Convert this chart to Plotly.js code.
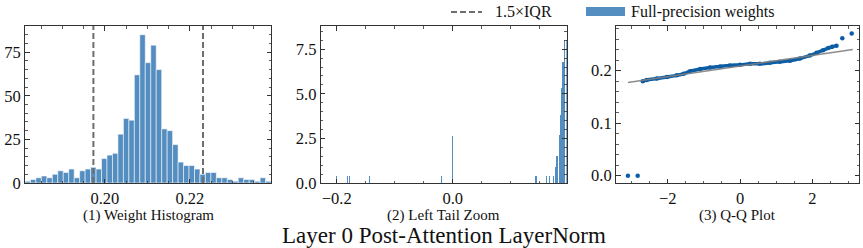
<!DOCTYPE html>
<html>
<head>
<meta charset="utf-8">
<script src="https://cdn.plot.ly/plotly-3.0.1.min.js"></script>
<style>html,body{margin:0;padding:0;background:#fff;}#chart{width:863px;height:248px;}</style>
</head>
<body>
<div id="chart"></div>
<script>
// ---- Panel 1: weight histogram (45 equal bins) ----
const histStart = 0.18184;      // centre of first bin
const histBinWidth = 0.001287;
const histCounts = [1, 2, 3, 4, 3, 5, 7, 6, 8, 3, 7, 8, 9, 8, 14, 16, 17, 28, 37, 36,
                    62, 85, 69, 79, 65, 31, 30, 22, 12, 10, 10, 8, 5, 6, 6, 3, 3, 2, 1, 3,
                    2, 2, 1, 3, 1];
const iqrFences = [0.1973, 0.2231];

// ---- Panel 2: left tail zoom (density) ----
const tailX = [-0.2, -0.181, -0.178, -0.144, -0.020, 0.0, 0.1436, 0.162, 0.167, 0.174,
               0.1775, 0.1795, 0.1815, 0.1835, 0.1855, 0.1875, 0.1895, 0.1915, 0.1935, 0.1955];
const tailY = [0.4, 0.4, 0.4, 0.4, 0.4, 2.64, 0.4, 0.4, 0.4, 0.4,
               0.9, 1.5, 1.5, 2.7, 3.8, 5.3, 6.8, 6.8, 8.0, 8.0];

// ---- Panel 3: Q-Q plot ----
const qqTheo = [-3.10, -2.83, -2.69, -2.58, -2.30, -2.02, -1.75, -1.56, -1.38, -1.10,
                -0.83, -0.55, -0.28, 0.0, 0.28, 0.55, 0.83, 1.10, 1.38, 1.66,
                1.93, 2.12, 2.30, 2.44, 2.55, 2.67, 2.83, 3.09];
const qqSample = [0.0, 0.0, 0.1797, 0.182, 0.185, 0.188, 0.191, 0.194, 0.199, 0.203,
                  0.206, 0.208, 0.210, 0.211, 0.213, 0.213, 0.215, 0.217, 0.219, 0.223,
                  0.229, 0.234, 0.239, 0.243, 0.2455, 0.2476, 0.2617, 0.2705];
const qqLineX = [-3.10, 3.12];
const qqLineY = [0.1774, 0.2403];

const labels = ["(1) Weight Histogram", "(2) Left Tail Zoom", "(3) Q-Q Plot"];
const mainTitle = "Layer 0 Post-Attention LayerNorm";
const legendNames = ["1.5×IQR", "Full-precision weights"];

const BLUE = "#0C5DA5";
const BAR = "rgba(12,93,165,0.7)";
const AX = "#333333";
const FONT = "Liberation Serif, Times New Roman, serif";
const W = 863, H = 248;

const traces = [
  {type: "bar", x0: histStart, dx: histBinWidth, y: histCounts, xaxis: "x", yaxis: "y",
   marker: {color: BAR, line: {color: "rgba(255,255,255,0.8)", width: 0.7}}, showlegend: false},
  {type: "bar", x: tailX, y: tailY, width: 0.0019, xaxis: "x2", yaxis: "y2",
   marker: {color: BAR, line: {width: 0}}, showlegend: false},
  {type: "scatter", mode: "markers", x: qqTheo, y: qqSample, xaxis: "x3", yaxis: "y3",
   marker: {color: BLUE, size: 4.5}, showlegend: false},
  {type: "scatter", mode: "lines", x: qqTheo.slice(2, 26), y: qqSample.slice(2, 26), xaxis: "x3", yaxis: "y3",
   line: {color: BLUE, width: 3.5, shape: "spline"}, showlegend: false},
  {type: "scatter", mode: "lines", x: qqLineX, y: qqLineY, xaxis: "x3", yaxis: "y3",
   line: {color: "rgba(128,128,128,0.9)", width: 1.6}, showlegend: false}
];

function axis(domain, range, dtick, tick0, minor, fmt, extra) {
  return Object.assign({
    domain: domain, range: range, tickmode: "linear", dtick: dtick, tick0: tick0,
    tickformat: fmt, ticks: "inside", ticklen: 4.5, tickwidth: 1, tickcolor: AX,
    showline: true, linecolor: AX, linewidth: 1, mirror: "allticks",
    showgrid: false, zeroline: false, fixedrange: true,
    tickfont: {family: FONT, size: 16.5, color: "#111"},
    minor: {tickmode: "linear", tick0: tick0, dtick: minor, ticks: "inside", ticklen: 2.5, tickwidth: 0.8, tickcolor: AX, showgrid: false}
  }, extra || {});
}
const yd = [1 - 183 / H, 1 - 26 / H];
const d1 = [25 / W, 271 / W], d2 = [320.7 / W, 566.7 / W], d3 = [616 / W, 859.3 / W];

const shapes = iqrFences.map(v => ({
  type: "line", xref: "x", yref: "y domain", x0: v, x1: v, y0: 0, y1: 1,
  line: {color: "#6e6e6e", width: 2, dash: "6px,3px"}
}));
shapes.push({type: "line", xref: "paper", yref: "paper", x0: 451 / W, x1: 482 / W, y0: 1 - 12 / H, y1: 1 - 12 / H,
  line: {color: "#6e6e6e", width: 2, dash: "6px,3px"}});
shapes.push({type: "rect", xref: "paper", yref: "paper", x0: 586 / W, x1: 625 / W, y0: 1 - 16 / H, y1: 1 - 7 / H,
  fillcolor: BAR, line: {width: 0}});

const annFont = {family: FONT, size: 15, color: "#111"};
const annotations = [
  {text: labels[0], x: (d1[0] + d1[1]) / 2, y: 1 - 215 / H},
  {text: labels[1], x: (d2[0] + d2[1]) / 2, y: 1 - 215 / H},
  {text: labels[2], x: (d3[0] + d3[1]) / 2, y: 1 - 215 / H}
].map(a => Object.assign(a, {xref: "paper", yref: "paper", showarrow: false, xanchor: "center", yanchor: "middle", font: annFont}));
annotations.push({text: mainTitle, x: 444 / W, y: 1 - 235 / H, xref: "paper", yref: "paper", showarrow: false,
  xanchor: "center", yanchor: "middle", font: {family: FONT, size: 23, color: "#111"}});
annotations.push({text: legendNames[0], x: 493 / W, y: 1 - 12 / H, xref: "paper", yref: "paper", showarrow: false,
  xanchor: "left", yanchor: "middle", font: {family: FONT, size: 16, color: "#111"}});
annotations.push({text: legendNames[1], x: 629 / W, y: 1 - 12 / H, xref: "paper", yref: "paper", showarrow: false,
  xanchor: "left", yanchor: "middle", font: {family: FONT, size: 16, color: "#111"}});

const layout = {
  width: W, height: H, margin: {l: 0, r: 0, t: 0, b: 0},
  paper_bgcolor: "#fff", plot_bgcolor: "#fff", showlegend: false, bargap: 0,
  font: {family: FONT, color: "#111"},
  xaxis: axis(d1, [0.1812, 0.2391], 0.02, 0.2, 0.005, ".2f", {anchor: "y"}),
  yaxis: axis(yd, [0, 90], 25, 0, 5, "d", {anchor: "x"}),
  xaxis2: axis(d2, [-0.2276, 0.1966], 0.2, 0, 0.05, ".1f", {anchor: "y2"}),
  yaxis2: axis(yd, [0, 8.8], 2.5, 0, 0.5, ".1f", {anchor: "x2"}),
  xaxis3: axis(d3, [-3.43, 3.30], 2, 0, 0.5, "d", {anchor: "y3"}),
  yaxis3: axis(yd, [-0.014, 0.285], 0.1, 0, 0.02, ".1f", {anchor: "x3"}),
  shapes: shapes, annotations: annotations
};
Plotly.newPlot("chart", traces, layout, {staticPlot: true, displayModeBar: false});
</script>
</body>
</html>
